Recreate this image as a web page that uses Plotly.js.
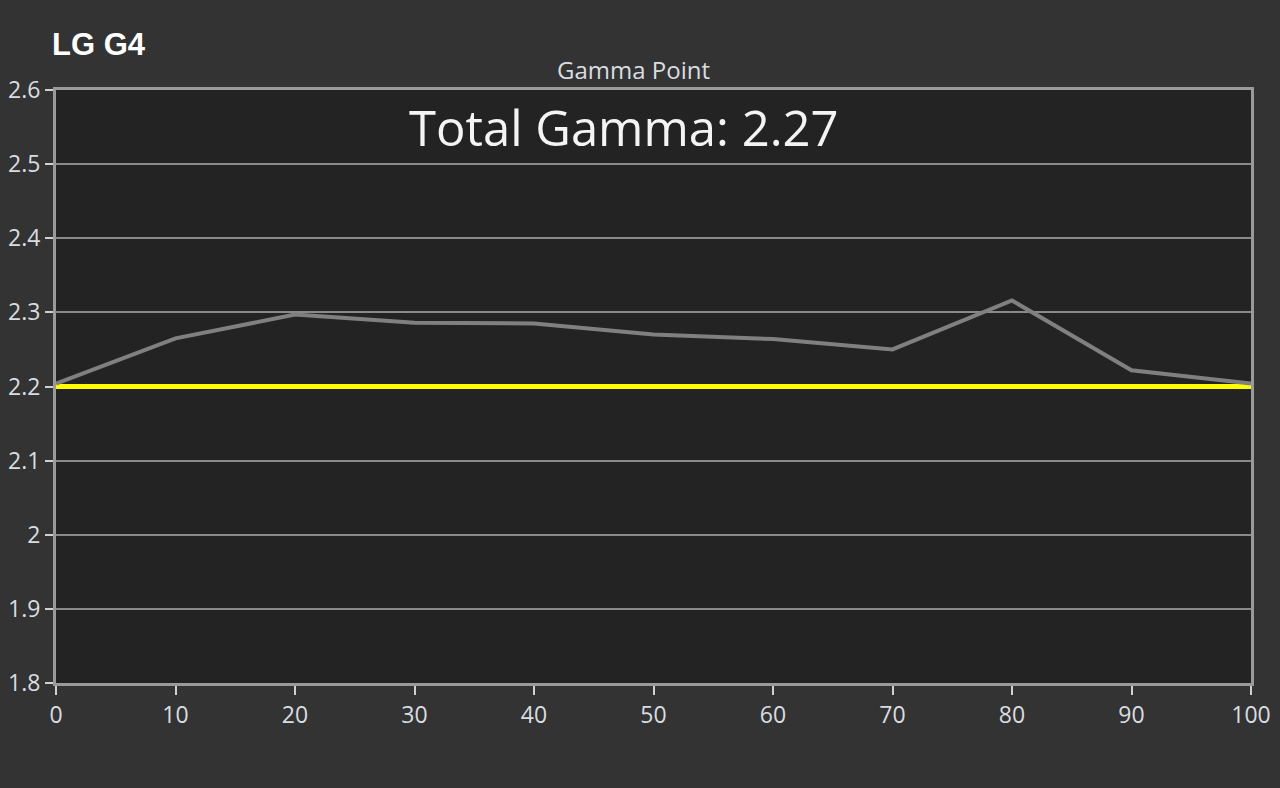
<!DOCTYPE html>
<html>
<head>
<meta charset="utf-8">
<script src="https://cdn.plot.ly/plotly-3.0.1.min.js"></script>
<style>
html,body{margin:0;padding:0;background:#333333;}
#chart{width:1280px;height:788px;}
</style>
</head>
<body>
<div id="chart"></div>
<script>
const chartTitle = "LG G4";
const axisTitle = "Gamma Point";
const totalGammaLabel = "Total Gamma: 2.27";
const gammaPoints = [0, 10, 20, 30, 40, 50, 60, 70, 80, 90, 100];
const measuredGamma = [2.204, 2.265, 2.297, 2.286, 2.285, 2.270, 2.264, 2.250, 2.316, 2.222, 2.204];
const targetX = [0, 100];
const targetGamma = [2.2, 2.2];
const yTicks = [1.8, 1.9, 2, 2.1, 2.2, 2.3, 2.4, 2.5, 2.6];
const yTickText = ["1.8", "1.9", "2", "2.1", "2.2", "2.3", "2.4", "2.5", "2.6"];
const xTicks = [0, 10, 20, 30, 40, 50, 60, 70, 80, 90, 100];

const traces = [
  {x: targetX, y: targetGamma, mode: "lines", line: {color: "#ffff00", width: 5}, hoverinfo: "skip"},
  {x: gammaPoints, y: measuredGamma, mode: "lines", line: {color: "#808080", width: 4}}
];

const tickFont = {family: "Open Sans, sans-serif", size: 23, color: "#d9dde2"};

const layout = {
  width: 1280, height: 788,
  paper_bgcolor: "#333333",
  plot_bgcolor: "#232323",
  showlegend: false,
  margin: {l: 56, r: 29, t: 90, b: 105},
  title: {
    text: "<b>" + chartTitle + "</b>",
    font: {family: "Liberation Sans, Arial, sans-serif", size: 31, color: "#ffffff"},
    xref: "container", yref: "container",
    x: 52/1280, xanchor: "left",
    y: 1 - 44/788, yanchor: "middle"
  },
  xaxis: {
    range: [0, 100],
    tickvals: xTicks,
    ticks: "outside", ticklen: 9, tickwidth: 2, tickcolor: "#d0d0d0",
    tickfont: tickFont,
    showgrid: false, zeroline: false,
    showline: true, mirror: true, linecolor: "#9a9a9a", linewidth: 3,
    fixedrange: true
  },
  yaxis: {
    range: [1.8, 2.6],
    tickvals: yTicks, ticktext: yTickText,
    ticks: "outside", ticklen: 8, tickwidth: 2, tickcolor: "#d0d0d0",
    tickfont: tickFont,
    showgrid: true, gridcolor: "#8a8a8a", gridwidth: 2,
    zeroline: false,
    showline: true, mirror: true, linecolor: "#9a9a9a", linewidth: 3,
    fixedrange: true
  },
  annotations: [
    {
      text: axisTitle, showarrow: false,
      xref: "paper", yref: "paper", x: 0.483, y: 1, yanchor: "bottom", yshift: 2,
      font: {family: "Open Sans, sans-serif", size: 24, color: "#d9dde2"}
    },
    {
      text: totalGammaLabel, showarrow: false,
      xref: "paper", x: 0.475, y: 2.55, yref: "y",
      font: {family: "Open Sans, sans-serif", size: 49, color: "#f4f4f4"}
    }
  ]
};

Plotly.newPlot("chart", traces, layout, {displayModeBar: false, staticPlot: true});
</script>
</body>
</html>
